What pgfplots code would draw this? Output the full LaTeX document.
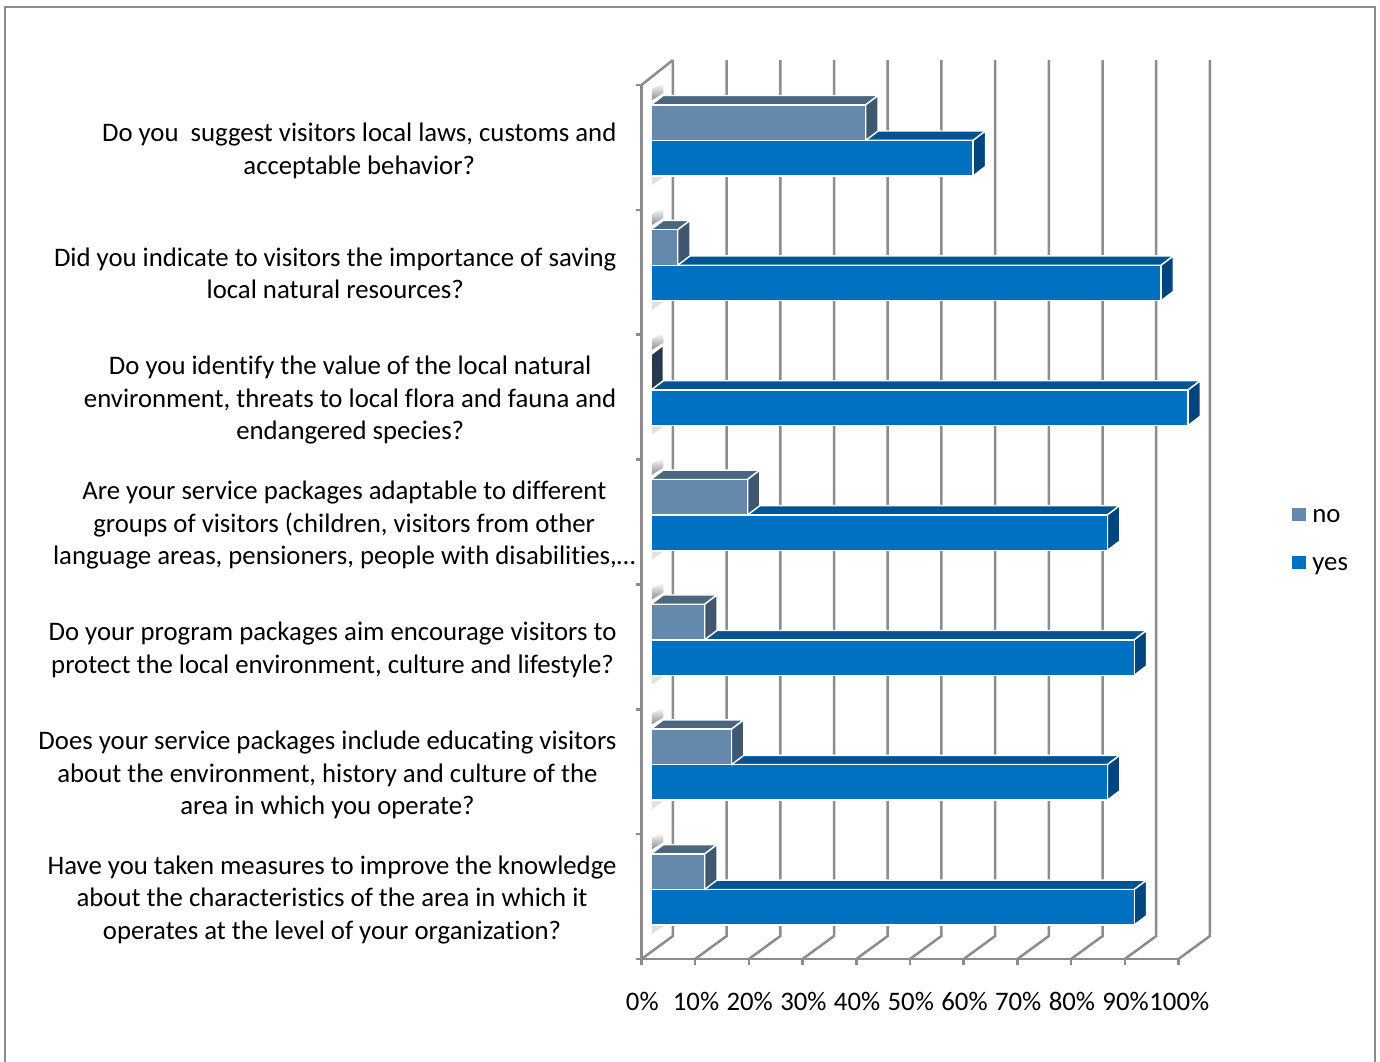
\documentclass[border=0pt]{standalone}
\usepackage{fontspec}
\setmainfont{Carlito}[Ligatures=CommonOff]
\usepackage{pgfplots}
\pgfplotsset{compat=1.18}

\definecolor{wallgray}{HTML}{8C8C8C}
\definecolor{noFront}{HTML}{6589AD}
\definecolor{noTop}{HTML}{4A6781}
\definecolor{noSide}{HTML}{3F5870}
\definecolor{noSideDark}{HTML}{26394D}
\definecolor{yesFront}{HTML}{0070C0}
\definecolor{yesTop}{HTML}{005493}
\definecolor{yesSide}{HTML}{00457E}

% Offsets of the 3-D construction, in axis units
\def\ox{1.75}    % bars start behind the front plane
\def\dx{2.3}     % bar depth, horizontal
\def\dy{0.075}   % bar depth, vertical
\def\barh{0.2843}% height of one bar
\def\lift{0.272} % lowest bar edge above the row's tick

% #1 value, #2 row, #3 level (0 yes, 1 no), #4 front, #5 top, #6 side
\newcommand\cuboid[6]{%
  \addplot[fill=#5,draw=white,line width=0.7pt,line join=round,forget plot] coordinates {
    ({\ox},{#2+\lift+(#3+1)*\barh})
    ({\ox+#1},{#2+\lift+(#3+1)*\barh})
    ({\ox+#1+\dx},{#2+\lift+(#3+1)*\barh+\dy})
    ({\ox+\dx},{#2+\lift+(#3+1)*\barh+\dy})} -- cycle;
  \addplot[fill=#6,draw=white,line width=0.7pt,line join=round,forget plot] coordinates {
    ({\ox+#1},{#2+\lift+#3*\barh})
    ({\ox+#1+\dx},{#2+\lift+#3*\barh+\dy})
    ({\ox+#1+\dx},{#2+\lift+(#3+1)*\barh+\dy})
    ({\ox+#1},{#2+\lift+(#3+1)*\barh})} -- cycle;
  \addplot[fill=#4,draw=white,line width=0.7pt,line join=round,forget plot] coordinates {
    ({\ox},{#2+\lift+#3*\barh})
    ({\ox+#1},{#2+\lift+#3*\barh})
    ({\ox+#1},{#2+\lift+(#3+1)*\barh})
    ({\ox},{#2+\lift+(#3+1)*\barh})} -- cycle;
}
\newcommand\yesbar[2]{\cuboid{#1}{#2}{0}{yesFront}{yesTop}{yesSide}}
\newcommand\nobar[2]{\cuboid{#1}{#2}{1}{noFront}{noTop}{noSide}}

% Faint fading marks on the floor and wall of each row
\newcommand\rowshade[1]{%
  \addplot[shade,top color=white,bottom color=black!45,draw=none,forget plot] coordinates {
    ({\ox+0.2},{#1+0.879}) ({\ox+\dx},{#1+0.935}) ({\ox+\dx},{#1+1.015}) ({\ox+0.2},{#1+0.967})} -- cycle;
  \addplot[fill=black!12,draw=none,forget plot] coordinates {
    ({\ox+0.2},{#1+0.263}) ({\ox+\dx},{#1+0.263}) ({\ox+0.2},{#1+0.199})} -- cycle;
}
\newcommand\Q[1]{\begin{tabular}{@{}c@{}}#1\end{tabular}}

\begin{document}
\begin{tikzpicture}
\path[use as bounding box] (0pt,0pt) rectangle (690pt,530.5pt);
\draw[wallgray,line width=1.2pt] (2.6pt,-2pt) -- (2.6pt,527pt) -- (687.6pt,527pt) -- (687.6pt,-2pt);
\begin{axis}[
  at={(320.75pt,51pt)}, anchor=south west,
  scale only axis, width=268.5pt, height=437pt,
  xmin=0, xmax=100, ymin=0, ymax=7,
  clip=false,
  axis x line*=bottom, axis y line*=left,
  axis line style={-,draw=wallgray,line width=1.25pt},
  tick style={draw=wallgray,line width=1.25pt},
  tick align=outside, major tick length=3pt,
  xtick={0,10,...,100},
  xticklabels={0\%,10\%,20\%,30\%,40\%,50\%,60\%,70\%,80\%,90\%,100\%},
  xticklabel style={font=\fontsize{13.38}{16.25}\selectfont,yshift=-10pt,xshift=0.4pt},
  ytick={0,...,6},
  extra y ticks={7}, extra y tick labels={},
  yticklabels={
    {\Q{Have you taken measures to improve the knowledge\\about the characteristics of the area in which it\\operates at the level of your organization?}},
    {\Q{Does your service packages include educating visitors\\about the environment, history and culture of the\\area in which you operate?}},
    {\Q{Do your program packages aim encourage visitors to\\protect the local environment, culture and lifestyle?}},
    {\Q{Are your service packages adaptable to different\\groups of visitors (children, visitors from other\\language areas, pensioners, people with disabilities,…}\kern-9.5pt},
    {\Q{Do you identify the value of the local natural\\environment, threats to local flora and fauna and\\endangered species?}},
    {\Q{Did you indicate to visitors the importance of saving\\local natural resources?}},
    {\Q{Do you\ \ suggest visitors local laws, customs and\\acceptable behavior?}}
  },
  yticklabel style={font=\fontsize{13.38}{16.25}\selectfont,anchor=east,xshift=-6pt,yshift=29.3pt},
  legend style={at={(1.2114,0.5195)},anchor=north west,draw=none,fill=none,inner sep=0pt,
    font=\fontsize{13.38}{16.25}\selectfont,row sep=12pt},
  legend cell align=left,
  legend image code/.code={\fill[#1] (0pt,-1.6pt) rectangle (6.4pt,4.6pt); \path (7.6pt,0pt);},
]
% Back wall, floor diagonals and the upper edge of the side wall
\pgfplotsinvokeforeach{0,10,...,100}{
  \addplot[wallgray,line width=1.25pt,forget plot] coordinates {(#1,0) ({#1+5.85},0.184) ({#1+5.85},7.2)};
}
\addplot[wallgray,line width=1.25pt,forget plot] coordinates {(0,7) (5.85,7.2)};

\pgfplotsinvokeforeach{0,...,6}{\rowshade{#1}}

% yes / no shares by row, bottom row first
\yesbar{90}{0}  \nobar{10}{0}
\yesbar{85}{1}  \nobar{15}{1}
\yesbar{90}{2}  \nobar{10}{2}
\yesbar{85}{3}  \nobar{18}{3}
\yesbar{100}{4} \cuboid{0}{4}{1}{noFront}{noTop}{noSideDark}
\yesbar{95}{5}  \nobar{5}{5}
\yesbar{60}{6}  \nobar{40}{6}

\addlegendimage{noFront}\addlegendentry{no}
\addlegendimage{yesFront}\addlegendentry{yes}
\end{axis}
\end{tikzpicture}
\end{document}
